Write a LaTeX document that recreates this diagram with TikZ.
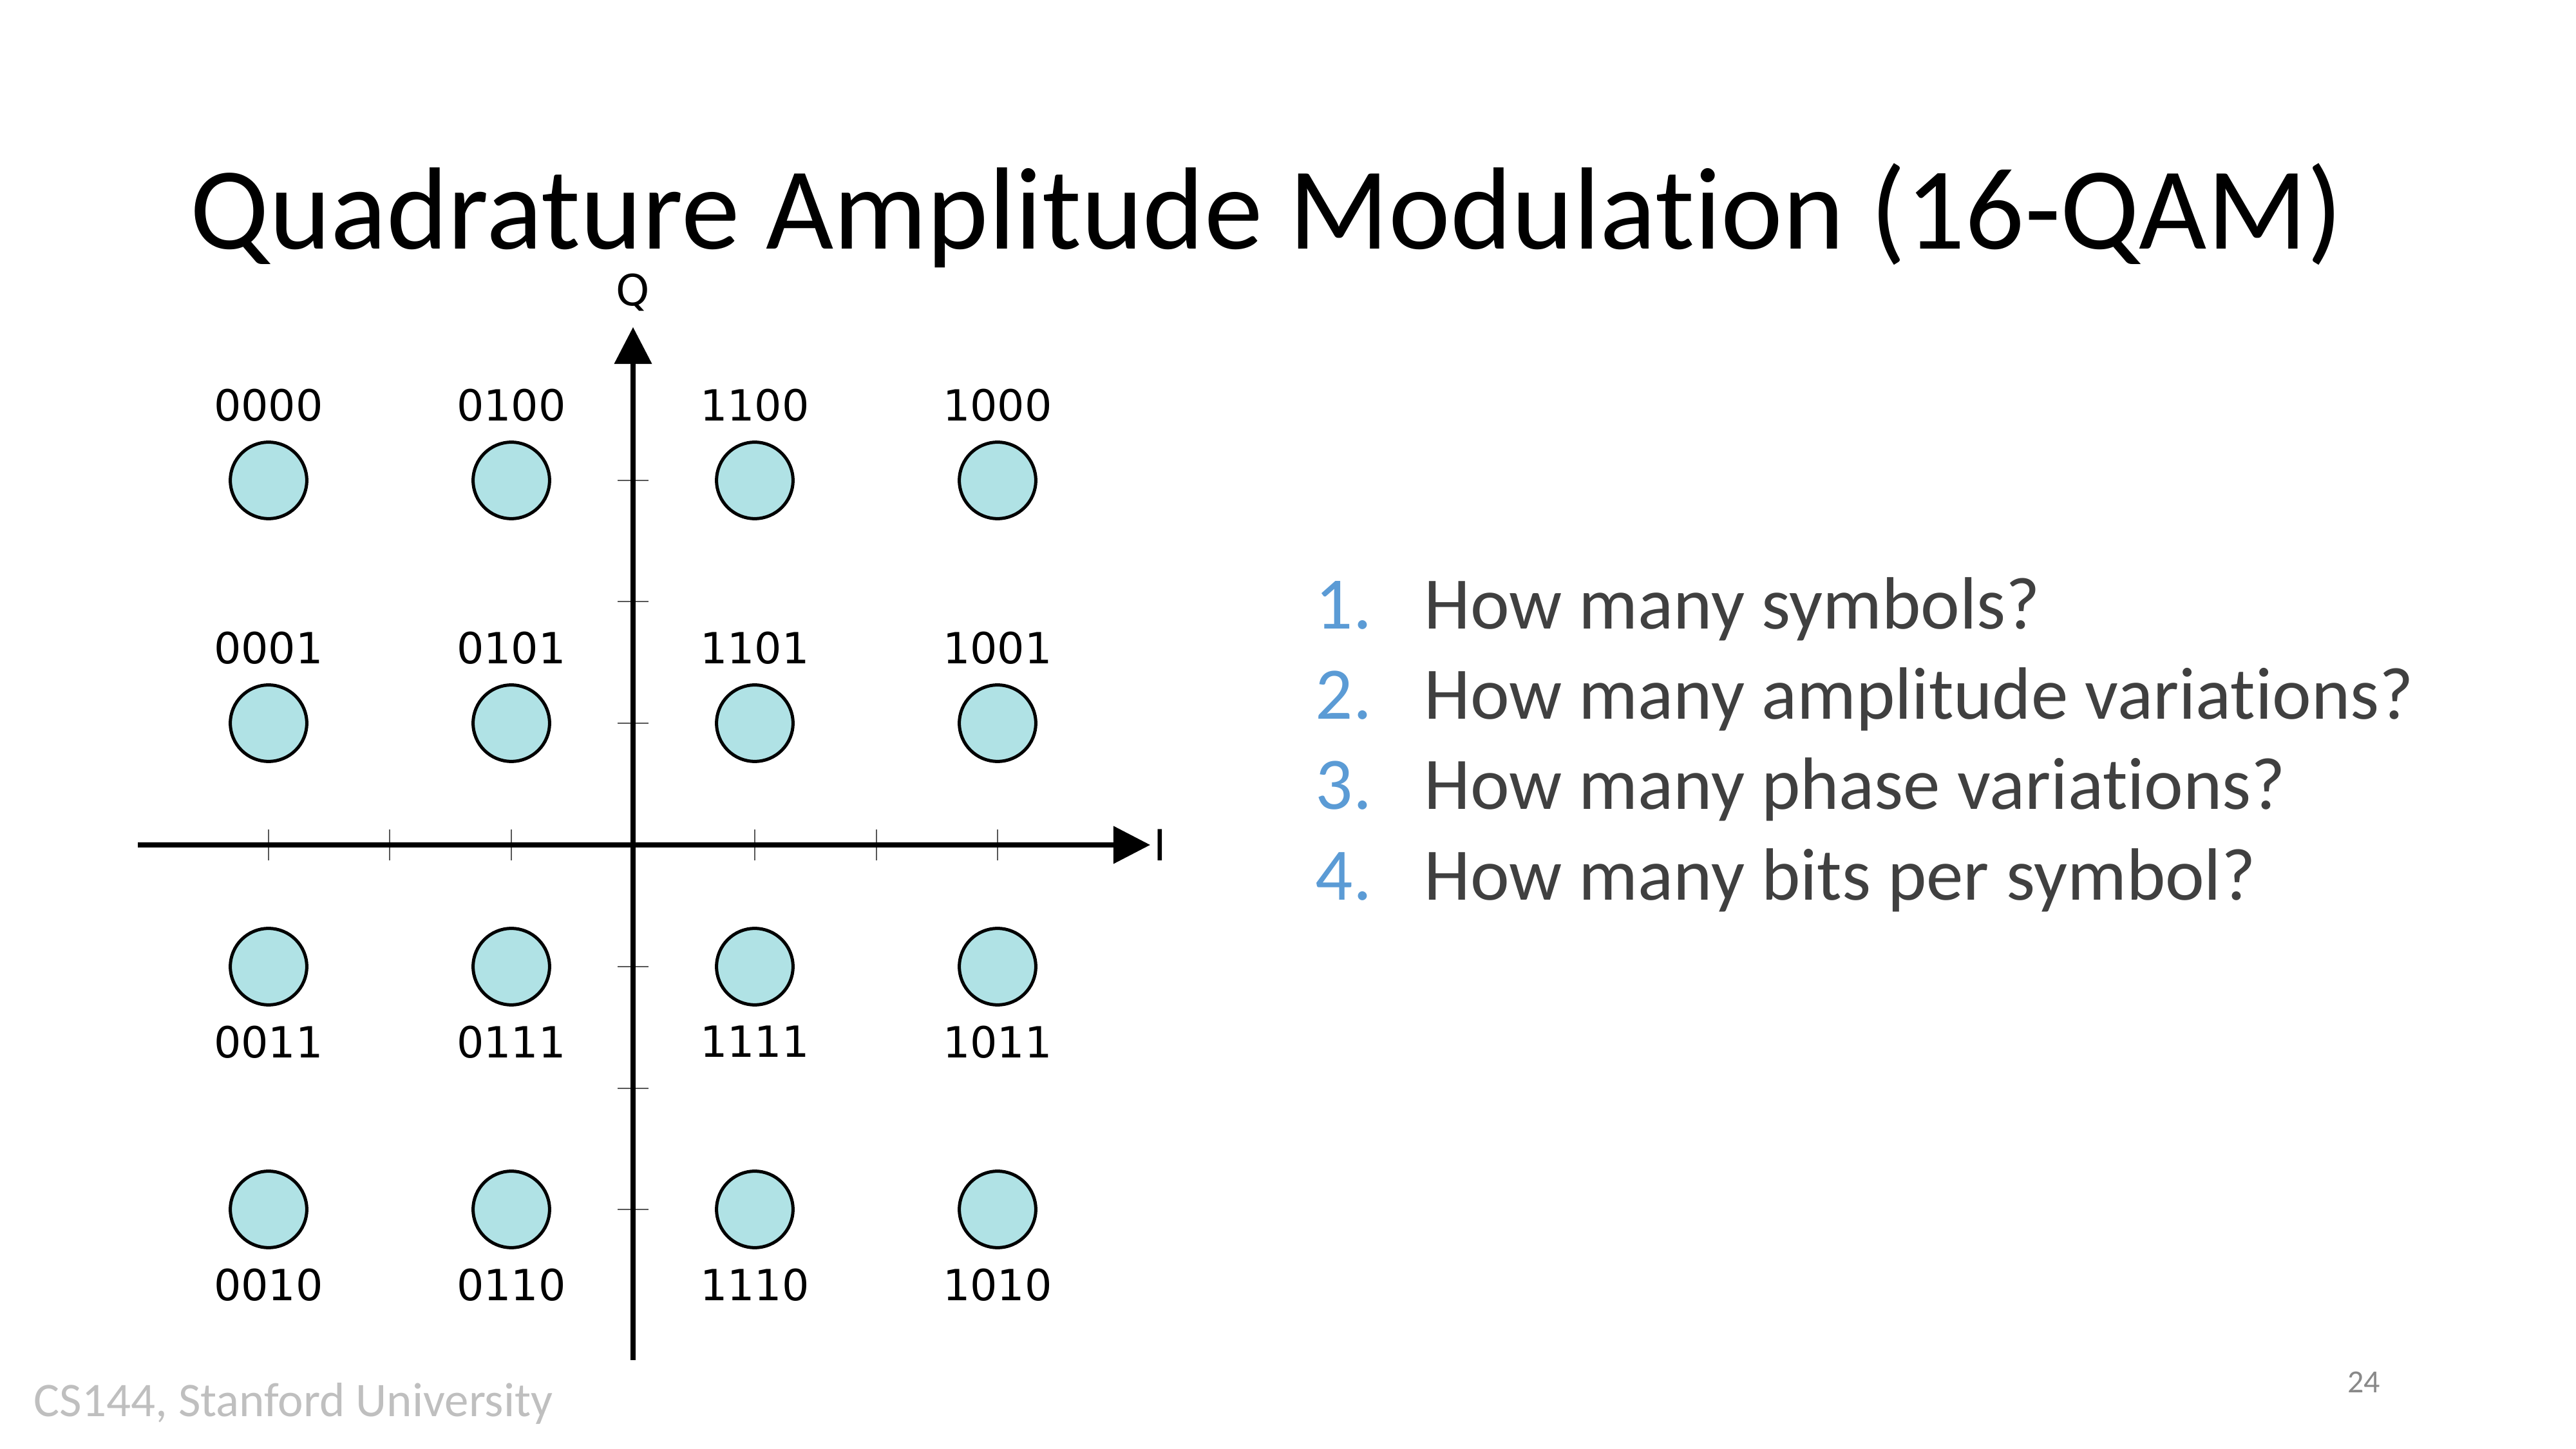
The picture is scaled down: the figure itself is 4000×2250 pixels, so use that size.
\documentclass[tikz,border=0pt]{standalone}
\usepackage{fontspec}
\setmainfont{Carlito}[Ligatures=NoCommon]
\newfontfamily\bitfont{DejaVu Sans}
\usepackage{xcolor}
\usepackage{tikz}
\usetikzlibrary{arrows.meta, positioning}
\definecolor{ptfill}{HTML}{B0E2E5}
\definecolor{qblue}{HTML}{5B9BD5}
\definecolor{qtext}{HTML}{404040}
\definecolor{footgray}{HTML}{BFBFBF}
\definecolor{pagegray}{HTML}{898989}
\definecolor{tickgray}{HTML}{595959}
\tikzset{
  pt/.style={circle, draw=black, fill=ptfill, line width=1.2pt, minimum size=28.5pt, inner sep=0pt},
  bits/.style={font=\bitfont\fontsize{16}{19}\selectfont, inner sep=0pt},
  axis/.style={-{Triangle[length=13.7pt, width=13.7pt]}, line width=1.7pt, draw=black},
  tickmark/.style={line width=0.6pt, draw=tickgray},
  ttl/.style={font=\fontsize{43.6}{52}\selectfont, inner sep=0pt, anchor=base},
  qnum/.style={font=\fontsize{27.6}{33}\selectfont, text=qblue, inner sep=0pt, anchor=base west},
  qtxt/.style={font=\fontsize{27.6}{33}\selectfont, text=qtext, inner sep=0pt, anchor=base west},
  foot/.style={font=\fontsize{18}{22}\selectfont, text=footgray, inner sep=0pt, anchor=base west},
  pgnum/.style={font=\fontsize{12}{14}\selectfont, text=pagegray, inner sep=0pt, anchor=base east},
}

\begin{document}
\begin{tikzpicture}[x=0.24pt, y=-0.24pt]
  \useasboundingbox (0,0) rectangle (4000,2250);
  \node[ttl] (title) at (1967,387) {Quadrature Amplitude Modulation (16-QAM)};

  % axes
  \coordinate (o) at (983,1312);
  \coordinate (qbot) at (983,2112);
  \coordinate (qtop) at (983,508);
  \coordinate (ileft) at (214,1312);
  \coordinate (iright) at (1786,1312);
  \foreach \k in {-566,-378,-189,189,378,566} {
    \draw[tickmark] ([shift={(\k,-24)}]o) -- ([shift={(\k,24)}]o);
    \draw[tickmark] ([shift={(-24,\k)}]o) -- ([shift={(24,\k)}]o);
  }
  \draw[axis] (qbot) -- (qtop);
  \draw[axis] (ileft) -- (iright);
  \node[bits, anchor=base] (qlab) at (983,475) {Q};
  \node[bits, anchor=west] (ilab) at (1791,1312) {I};

  % constellation points
  \node[pt] (p0000) at (417,746) {};
  \node[pt] (p0100) at (794,746) {};
  \node[pt] (p1100) at (1172,746) {};
  \node[pt] (p1000) at (1549,746) {};
  \node[pt] (p0001) at (417,1123) {};
  \node[pt] (p0101) at (794,1123) {};
  \node[pt] (p1101) at (1172,1123) {};
  \node[pt] (p1001) at (1549,1123) {};
  \node[pt] (p0011) at (417,1501) {};
  \node[pt] (p0111) at (794,1501) {};
  \node[pt] (p1111) at (1172,1501) {};
  \node[pt] (p1011) at (1549,1501) {};
  \node[pt] (p0010) at (417,1878) {};
  \node[pt] (p0110) at (794,1878) {};
  \node[pt] (p1110) at (1172,1878) {};
  \node[pt] (p1010) at (1549,1878) {};

  \node[bits, above=7pt of p0000] (l0000) {0000};
  \node[bits, above=7pt of p0100] (l0100) {0100};
  \node[bits, above=7pt of p1100] (l1100) {1100};
  \node[bits, above=7pt of p1000] (l1000) {1000};
  \node[bits, above=7pt of p0001] (l0001) {0001};
  \node[bits, above=7pt of p0101] (l0101) {0101};
  \node[bits, above=7pt of p1101] (l1101) {1101};
  \node[bits, above=7pt of p1001] (l1001) {1001};
  \node[bits, below=7pt of p0011] (l0011) {0011};
  \node[bits, below=7pt of p0111] (l0111) {0111};
  \node[bits, below=7pt of p1111] (l1111) {1111};
  \node[bits, below=7pt of p1011] (l1011) {1011};
  \node[bits, below=7pt of p0010] (l0010) {0010};
  \node[bits, below=7pt of p0110] (l0110) {0110};
  \node[bits, below=7pt of p1110] (l1110) {1110};
  \node[bits, below=7pt of p1010] (l1010) {1010};

  % questions
  \node[qnum] (n1) at (2042,977) {1.};
  \node[qtxt] (q1) at (2211,977) {How many symbols?};
  \node[qnum] (n2) at (2042,1117) {2.};
  \node[qtxt] (q2) at (2211,1117) {How many amplitude variations?};
  \node[qnum] (n3) at (2042,1257) {3.};
  \node[qtxt] (q3) at (2211,1257) {How many phase variations?};
  \node[qnum] (n4) at (2042,1398) {4.};
  \node[qtxt] (q4) at (2211,1398) {How many bits per symbol?};

  \node[foot] (footer) at (52,2200) {CS144, Stanford University};
  \node[pgnum] (page) at (3697,2163) {24};
\end{tikzpicture}
\end{document}
